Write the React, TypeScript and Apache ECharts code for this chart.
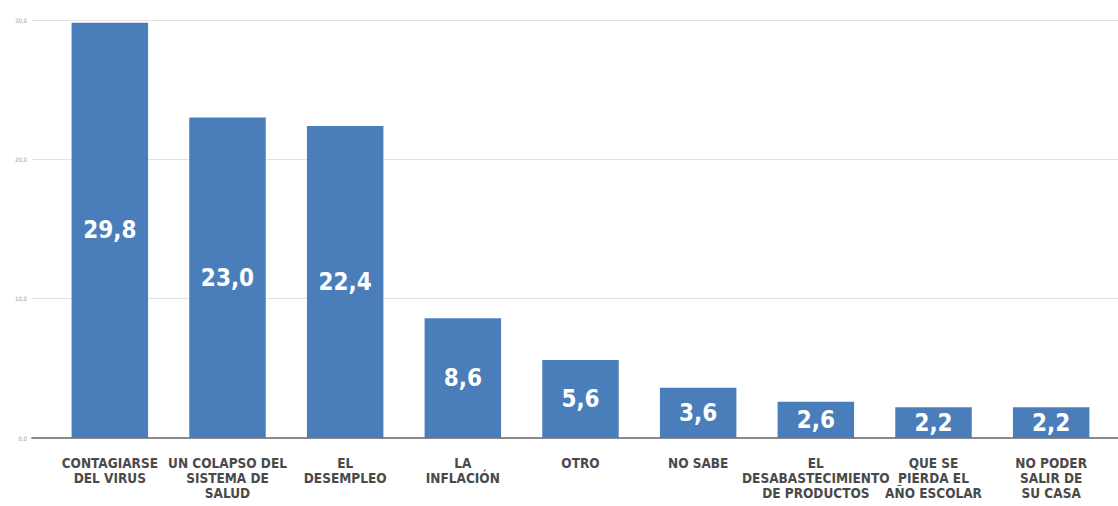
import React, { useEffect, useRef } from "react";
import * as echarts from "echarts";

const categories = [
  "CONTAGIARSE\nDEL VIRUS",
  "UN COLAPSO DEL\nSISTEMA DE\nSALUD",
  "EL\nDESEMPLEO",
  "LA\nINFLACIÓN",
  "OTRO",
  "NO SABE",
  "EL\nDESABASTECIMIENTO\nDE PRODUCTOS",
  "QUE SE\nPIERDA EL\nAÑO ESCOLAR",
  "NO PODER\nSALIR DE\nSU CASA",
];
const values = [29.8, 23.0, 22.4, 8.6, 5.6, 3.6, 2.6, 2.2, 2.2];
const yTicks = [0, 10, 20, 30];

const fmt = (v: number) => v.toFixed(1).replace(".", ",");
const FONT = "'Liberation Sans Narrow', 'DejaVu Sans Condensed', 'Roboto Condensed', sans-serif";

export default function App() {
  const ref = useRef<HTMLDivElement>(null);
  useEffect(() => {
    if (!ref.current) return;
    const chart = echarts.init(ref.current, undefined, { renderer: "svg" });
    chart.setOption({
      animation: false,
      backgroundColor: "#ffffff",
      grid: [
        { left: 32, right: 0, top: 20, bottom: 68 },
        { left: 51, right: 8, top: 20, bottom: 68 },
      ],
      xAxis: [
        {
          gridIndex: 0,
          type: "value",
          min: 0,
          max: 1,
          axisLine: { show: true, onZero: false, lineStyle: { color: "#8a8a8a", width: 2 } },
          axisTick: { show: false },
          axisLabel: { show: false },
          splitLine: { show: false },
        },
        {
          gridIndex: 1,
          type: "category",
          data: categories,
          axisLine: { show: false },
          axisTick: { show: false },
          axisLabel: {
            interval: 0,
            margin: 17,
            color: "#4a4a4a",
            fontFamily: FONT,
            fontWeight: "bold",
            fontSize: 13.5,
            lineHeight: 15,
          },
        },
      ],
      yAxis: [
        {
          gridIndex: 0,
          type: "value",
          min: yTicks[0],
          max: yTicks[yTicks.length - 1],
          interval: 10,
          axisLine: { show: false },
          axisTick: { show: false },
          axisLabel: {
            color: "#9a9a9a",
            fontSize: 6,
            margin: 5,
            fontFamily: FONT,
            formatter: (v: number) => fmt(v),
          },
          splitLine: { show: true, lineStyle: { color: "#e2e2e2", width: 1 } },
        },
        {
          gridIndex: 1,
          type: "value",
          min: 0,
          max: 30,
          interval: 10,
          show: false,
          splitLine: { show: false },
        },
      ],
      series: [
        {
          type: "bar",
          xAxisIndex: 1,
          yAxisIndex: 1,
          data: values,
          barCategoryGap: "35%",
          itemStyle: { color: "#4a7ebb" },
          label: {
            show: true,
            position: "inside",
            color: "#ffffff",
            fontFamily: FONT,
            fontWeight: "bold",
            fontSize: 24,
            formatter: (p: any) => fmt(p.value),
          },
        },
      ],
    });
    return () => chart.dispose();
  }, []);
  return (
    <div
      ref={ref}
      style={{ position: "fixed", left: 0, top: 0, width: 1118, height: 506 }}
    />
  );
}
